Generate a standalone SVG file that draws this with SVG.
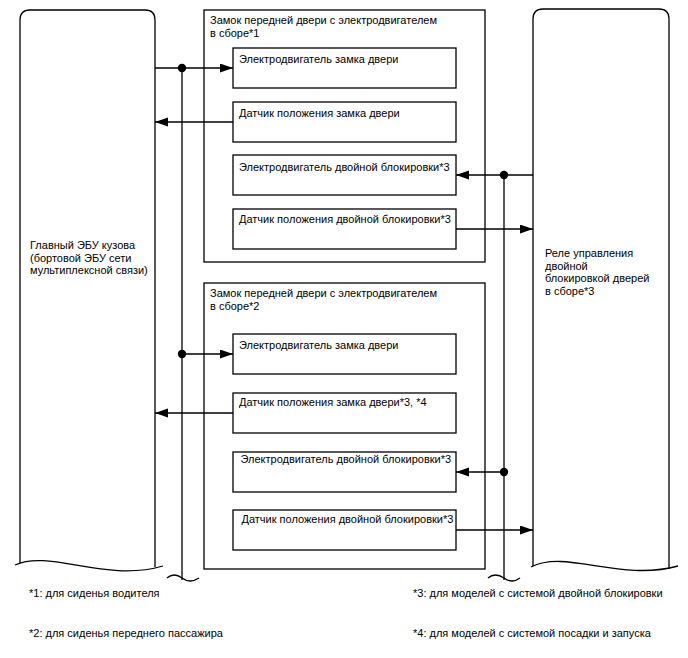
<svg xmlns="http://www.w3.org/2000/svg" width="688" height="658" viewBox="0 0 688 658">
<style>
.ln{fill:none;stroke:#000;stroke-width:1.3}
.bx{fill:#fff;stroke:#000;stroke-width:1.3}
text{font-family:"Liberation Sans",Arial,sans-serif;font-size:11px;fill:#000}
</style>
<defs>
<marker id="ah" markerUnits="userSpaceOnUse" markerWidth="14" markerHeight="10" refX="13" refY="4.5" orient="auto">
<path d="M0,0 L13,4.5 L0,9 z" fill="#000"/>
</marker>
</defs>
<rect width="688" height="658" fill="#fff"/>
<g id="ecu">
<path class="ln" d="M20,563 L20,20 Q20,10 30,10 L145,10 Q155,10 155,20 L155,567"/>
<path class="ln" d="M15,565 C50,549 105,583 163,566"/>
<text x="30" y="249">Главный ЭБУ кузова</text>
<text x="30" y="261.5">(бортовой ЭБУ сети</text>
<text x="30" y="274">мультиплексной связи)</text>
</g>
<g id="relay">
<path class="ln" d="M533,566 L533,19 Q533,9 543,9 L659,9 Q669,9 669,19 L669,569"/>
<path class="ln" d="M531,567 C566,549 620,582 678,566"/>
<text x="545" y="257">Реле управления</text>
<text x="545" y="269.5">двойной</text>
<text x="545" y="282">блокировкой дверей</text>
<text x="545" y="294.5">в сборе*3</text>
</g>
<g id="lock1">
<rect class="bx" x="204" y="10" width="281" height="252"/>
<text x="210" y="24">Замок передней двери с электродвигателем</text>
<text x="210" y="36.7">в сборе*1</text>
</g>
<g id="lock1-motor">
<rect class="bx" x="233" y="48" width="223" height="40"/>
<text x="239" y="62.7">Электродвигатель замка двери</text>
</g>
<g id="lock1-sensor">
<rect class="bx" x="233" y="102" width="223" height="40"/>
<text x="239" y="116.7">Датчик положения замка двери</text>
</g>
<g id="lock1-dlmotor">
<rect class="bx" x="233" y="155" width="223" height="40"/>
<text x="239" y="170.5">Электродвигатель двойной блокировки*3</text>
</g>
<g id="lock1-dlsensor">
<rect class="bx" x="233" y="209" width="223" height="40"/>
<text x="239" y="222.5">Датчик положения двойной блокировки*3</text>
</g>
<g id="lock2">
<rect class="bx" x="204" y="283" width="281" height="286"/>
<text x="210" y="297">Замок передней двери с электродвигателем</text>
<text x="210" y="309.7">в сборе*2</text>
</g>
<g id="lock2-motor">
<rect class="bx" x="233" y="334" width="223" height="40"/>
<text x="239" y="349">Электродвигатель замка двери</text>
</g>
<g id="lock2-sensor">
<rect class="bx" x="233" y="393" width="223" height="40"/>
<text x="239" y="406">Датчик положения замка двери*3, *4</text>
</g>
<g id="lock2-dlmotor">
<rect class="bx" x="233" y="452" width="223" height="40"/>
<text x="240.5" y="463">Электродвигатель двойной блокировки*3</text>
</g>
<g id="lock2-dlsensor">
<rect class="bx" x="233" y="510" width="223" height="40"/>
<text x="241.5" y="523">Датчик положения двойной блокировки*3</text>
</g>
<g id="connectors">
<path class="ln" d="M182,68 L182,580"/>
<path class="ln" d="M167,578 Q174,572 182,578 Q190,584 199,578"/>
<path class="ln" d="M504,175 L504,580"/>
<path class="ln" d="M488,578 Q495,572 504,578 Q512,584 520,578"/>
<path class="ln" d="M155,68 L233,68" marker-end="url(#ah)"/>
<path class="ln" d="M233,122 L155,122" marker-end="url(#ah)"/>
<path class="ln" d="M533,175 L456,175" marker-end="url(#ah)"/>
<path class="ln" d="M456,229 L533,229" marker-end="url(#ah)"/>
<path class="ln" d="M182,354 L233,354" marker-end="url(#ah)"/>
<path class="ln" d="M233,413 L155,413" marker-end="url(#ah)"/>
<path class="ln" d="M504,472 L456,472" marker-end="url(#ah)"/>
<path class="ln" d="M456,530 L533,530" marker-end="url(#ah)"/>
<circle cx="182" cy="68" r="4.2" fill="#000"/>
<circle cx="504" cy="175" r="4.2" fill="#000"/>
<circle cx="182" cy="354" r="4.2" fill="#000"/>
<circle cx="504" cy="472" r="4.2" fill="#000"/>
</g>
<g id="notes">
<text x="29" y="597">*1: для сиденья водителя</text>
<text x="29" y="636.5">*2: для сиденья переднего пассажира</text>
<text x="413" y="597">*3: для моделей с системой двойной блокировки</text>
<text x="413" y="636.5">*4: для моделей с системой посадки и запуска</text>
</g>
</svg>
